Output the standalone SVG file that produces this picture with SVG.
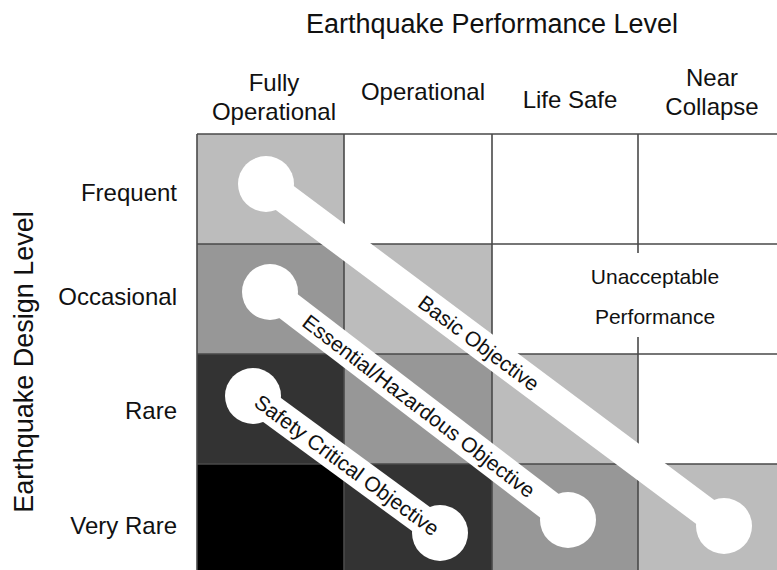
<svg xmlns="http://www.w3.org/2000/svg" width="777" height="570" viewBox="0 0 777 570">
  <style>
    text { font-family: "Liberation Sans", Arial, sans-serif; fill: #111; }
    .title { font-size: 27px; }
    .head { font-size: 24px; text-anchor: middle; }
    .row { font-size: 24px; text-anchor: end; }
    .lbl { font-size: 21px; text-anchor: middle; }
    .grid { stroke: #4a4a4a; stroke-width: 1.6; fill: none; }
    .bar { stroke: #fff; stroke-width: 30; }
    .end { fill: #fff; }
    .c0 { fill: #ffffff; }
    .c1 { fill: #bcbcbc; }
    .c2 { fill: #979797; }
    .c3 { fill: #333333; }
    .c4 { fill: #000000; }
  </style>

  <rect width="777" height="570" fill="#fff"/>

  <!-- axis titles -->
  <text class="title" x="492" y="33" text-anchor="middle">Earthquake Performance Level</text>
  <text class="title" transform="translate(33 362) rotate(-90)" text-anchor="middle">Earthquake Design Level</text>

  <!-- performance level headers -->
  <g id="col-fully-operational">
    <text class="head" x="274" y="91">Fully</text>
    <text class="head" x="274" y="120">Operational</text>
  </g>
  <g id="col-operational"><text class="head" x="423" y="100">Operational</text></g>
  <g id="col-life-safe"><text class="head" x="570" y="108">Life Safe</text></g>
  <g id="col-near-collapse">
    <text class="head" x="712" y="86">Near</text>
    <text class="head" x="712" y="115">Collapse</text>
  </g>

  <!-- design level headers -->
  <g id="row-frequent"><text class="row" x="177" y="201">Frequent</text></g>
  <g id="row-occasional"><text class="row" x="177" y="305">Occasional</text></g>
  <g id="row-rare"><text class="row" x="177" y="419">Rare</text></g>
  <g id="row-very-rare"><text class="row" x="177" y="534">Very Rare</text></g>

  <!-- matrix cells -->
  <g id="cells">
    <rect class="c1" x="197" y="134" width="147" height="110"/>
    <rect class="c0" x="344" y="134" width="148" height="110"/>
    <rect class="c0" x="492" y="134" width="146" height="110"/>
    <rect class="c0" x="638" y="134" width="139" height="110"/>

    <rect class="c2" x="197" y="244" width="147" height="110"/>
    <rect class="c1" x="344" y="244" width="148" height="110"/>
    <rect class="c0" x="492" y="244" width="146" height="110"/>
    <rect class="c0" x="638" y="244" width="139" height="110"/>

    <rect class="c3" x="197" y="354" width="147" height="110"/>
    <rect class="c2" x="344" y="354" width="148" height="110"/>
    <rect class="c1" x="492" y="354" width="146" height="110"/>
    <rect class="c0" x="638" y="354" width="139" height="110"/>

    <rect class="c4" x="197" y="464" width="147" height="106"/>
    <rect class="c3" x="344" y="464" width="148" height="106"/>
    <rect class="c2" x="492" y="464" width="146" height="106"/>
    <rect class="c1" x="638" y="464" width="139" height="106"/>
  </g>

  <!-- grid lines -->
  <g id="grid" class="grid">
    <path d="M197 134H777M197 244H777M197 354H777M197 464H777"/>
    <path d="M197 134V570M344 134V570M492 134V570M638 134V570"/>
  </g>

  <!-- unacceptable region label -->
  <g id="unacceptable">
    <rect x="582" y="253" width="146" height="84" fill="#fff"/>
    <text class="lbl" x="655" y="284">Unacceptable</text>
    <text class="lbl" x="655" y="324">Performance</text>
  </g>

  <!-- performance objectives -->
  <g id="objectives">
    <g id="basic-objective">
      <line class="bar" x1="266" y1="184" x2="724" y2="526"/>
      <circle class="end" cx="266" cy="184" r="28"/>
      <circle class="end" cx="724" cy="526" r="28"/>
      <text class="lbl" transform="translate(479 343) rotate(36.75)" dy="0.36em">Basic Objective</text>
    </g>
    <g id="essential-objective">
      <line class="bar" x1="270" y1="292" x2="568" y2="520"/>
      <circle class="end" cx="270" cy="292" r="28"/>
      <circle class="end" cx="568" cy="520" r="28"/>
      <text class="lbl" transform="translate(419 406) rotate(37.42)" dy="0.36em">Essential/Hazardous Objective</text>
    </g>
    <g id="safety-objective">
      <line class="bar" x1="253" y1="396" x2="440" y2="533"/>
      <circle class="end" cx="253" cy="396" r="28"/>
      <circle class="end" cx="440" cy="533" r="28"/>
      <text class="lbl" transform="translate(347 465) rotate(36.23)" dy="0.36em">Safety Critical Objective</text>
    </g>
  </g>
</svg>
